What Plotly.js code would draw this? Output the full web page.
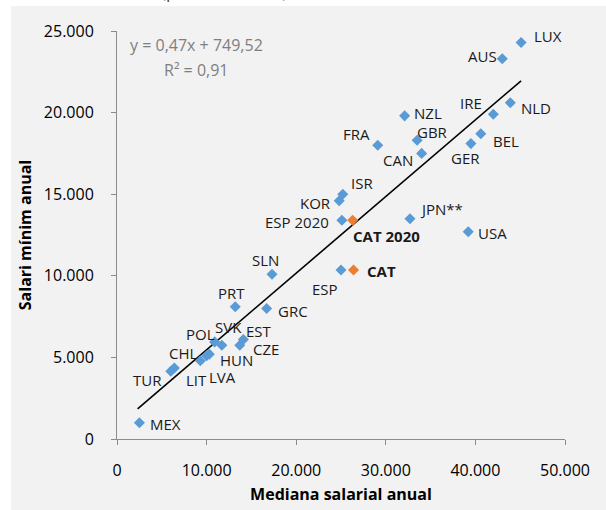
<!DOCTYPE html>
<html>
<head>
<meta charset="utf-8">
<script src="https://cdn.plot.ly/plotly-3.0.1.min.js"></script>
<style>
html,body{margin:0;padding:0;background:#fff;}
#chart{width:606px;height:510px;}
</style>
</head>
<body>
<div id="chart"></div>
<script>
// Countries (blue series)
const countries = ["LUX","AUS","NLD","IRE","BEL","GER","NZL","GBR","CAN","FRA","ISR","KOR","ESP 2020","JPN**","USA","ESP","SLN","PRT","GRC","EST","CZE","SVK","POL","HUN","LVA","LIT","CHL","TUR","MEX"];
const medianWage = [45100,43000,43900,42000,40600,39500,32100,33500,34000,29100,25200,24800,25100,32700,39200,25000,17300,13200,16700,14100,13700,11700,10900,10300,10000,9300,6400,6000,2500];
const minWage    = [24300,23300,20600,19900,18700,18100,19800,18300,17500,18000,15000,14600,13400,13500,12700,10350,10100,8100,8000,6100,5750,5750,5950,5200,5100,4800,4350,4150,1000];

// Catalonia (orange series)
const catLabels = ["CAT 2020","CAT"];
const catMedian = [26300,26400];
const catMin    = [13400,10350];

// Linear trend line endpoints (as drawn)
const trendX = [2300,45100];
const trendY = [1850,21950];

// Axis ticks
const xTicks = [0,10000,20000,30000,40000,50000];
const xTickText = ["0","10.000","20.000","30.000","40.000","50.000"];
const yTicks = [0,5000,10000,15000,20000,25000];
const yTickText = ["0","5.000","10.000","15.000","20.000","25.000"];

// Label offsets in pixels (style)
const countryOffsets = [[27,-6],[-20,-3],[26,5],[-22,-11],[25,7],[-5,14],[23,-3],[15,-8],[-24,7],[-21,-11],[19,-11],[-24,2],[-45,2],[32,-10],[24,1],[-16,19],[-7,-14],[-4,-14],[26,3],[16,-8],[26,4],[7,-18],[-14,-8],[27,6],[16,21],[-4,19],[9,-15],[-23,9],[26,1]];
const catOffsets = [[34,16],[28,1]];

const FONT = '"Open Sans", "Liberation Sans", sans-serif';
const blue = '#5B9BD5', orange = '#ED7D31';

const traces = [
  {x: trendX, y: trendY, mode:'lines', line:{color:'#000', width:1.6}, hoverinfo:'skip', showlegend:false},
  {x: medianWage, y: minWage, mode:'markers', marker:{symbol:'diamond', size:8.5, color:blue, line:{width:0}}, text:countries, showlegend:false},
  {x: catMedian, y: catMin, mode:'markers', marker:{symbol:'diamond', size:8.5, color:orange, line:{width:0}}, text:catLabels, showlegend:false}
];

const annotations = [];
countries.forEach((c,i)=>{
  annotations.push({x:medianWage[i], y:minWage[i], xref:'x', yref:'y', text:c, showarrow:false,
    xshift:countryOffsets[i][0], yshift:-countryOffsets[i][1], xanchor:'center', yanchor:'middle',
    font:{family:FONT, size:15, color:'#1a1a1a'}});
});
catLabels.forEach((c,i)=>{
  annotations.push({x:catMedian[i], y:catMin[i], xref:'x', yref:'y', text:'<b>'+c+'</b>', showarrow:false,
    xshift:catOffsets[i][0], yshift:-catOffsets[i][1], xanchor:'center', yanchor:'middle',
    font:{family:FONT, size:15, color:'#1a1a1a'}});
});
// regression equation
annotations.push({xref:'paper', yref:'paper', x:(196-117)/448, y:(439-45)/408, text:'y = 0,47x + 749,52', showarrow:false,
  xanchor:'center', yanchor:'middle', font:{family:FONT, size:16, color:'#7f7f7f'}});
annotations.push({xref:'paper', yref:'paper', x:(196-117)/448, y:(439-70)/408, text:'R² = 0,91', showarrow:false,
  xanchor:'center', yanchor:'middle', font:{family:FONT, size:16, color:'#7f7f7f'}});
// title mostly above the visible page (as in the reference)
annotations.push({xref:'paper', yref:'paper', x:(289-117)/448, y:(439-5)/408, text:'(preus corrents)', showarrow:false,
  xanchor:'right', yanchor:'bottom', font:{family:FONT, size:17, color:'#404040'}});

const layout = {
  width:606, height:510,
  margin:{l:117, r:41, t:31, b:71, pad:0},
  paper_bgcolor:'#ffffff',
  plot_bgcolor:'rgba(0,0,0,0)',
  font:{family:FONT, color:'#000'},
  showlegend:false,
  shapes:[{type:'rect', xref:'paper', yref:'paper', x0:(11-117)/448, x1:1.2, y0:-0.3, y1:(439-6)/408,
    fillcolor:'#f2f2f2', line:{width:0}, layer:'below'}],
  xaxis:{range:[0,50000], tickvals:xTicks, ticktext:xTickText, showgrid:false, zeroline:false,
    showline:true, linecolor:'#8c8c8c', linewidth:1, ticks:'outside', ticklen:5, tickcolor:'#8c8c8c',
    ticklabelstandoff:12, tickfont:{family:FONT, size:16, color:'#000'},
    title:{text:'<b>Mediana salarial anual</b>', font:{family:FONT, size:16, color:'#000'}, standoff:8}},
  yaxis:{range:[0,25000], tickvals:yTicks, ticktext:yTickText, showgrid:false, zeroline:false,
    showline:true, linecolor:'#8c8c8c', linewidth:1, ticks:'outside', ticklen:5, tickcolor:'#8c8c8c',
    ticklabelstandoff:14, tickfont:{family:FONT, size:16, color:'#000'},
    title:{text:'<b>Salari mínim anual</b>', font:{family:FONT, size:16, color:'#000'}, standoff:8}},
  annotations: annotations
};

Plotly.newPlot('chart', traces, layout, {displayModeBar:false, staticPlot:true});
</script>
</body>
</html>
